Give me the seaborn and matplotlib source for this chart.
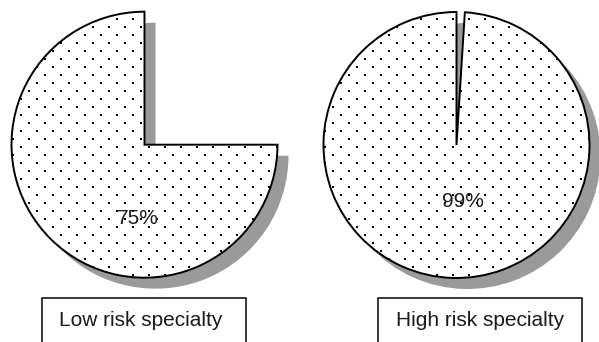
import numpy as np
import matplotlib
matplotlib.use("Agg")
import matplotlib.pyplot as plt
from matplotlib.patches import Rectangle
import seaborn as sns

# Share of respondents per specialty group
groups = ["Low risk specialty", "High risk specialty"]
percents = [75, 99]

sns.set_theme(style="white")
plt.rcParams["font.family"] = ["Liberation Sans", "DejaVu Sans"]

W, H = 599, 342
fig = plt.figure(figsize=(W / 100, H / 100), dpi=100)
ax = fig.add_axes([0, 0, 1, 1])

# layout in pixel units (y measured upward)
centers = [(144.5, H - 144.7), (456.5, H - 145.0)]
radius = 133
shadow_dx, shadow_dy = 11, -11
pct_pos = [(137.5, H - 218), (463.3, H - 201.3)]
box_span = [(42, 246), (378, 582)]
box_top = H - 298
name_pos = [(141, H - 320), (480, H - 320)]
shadow_color = "#9a9a9a"

# stippled texture: staggered dot lattice
xs, ys = [], []
for k, yi in enumerate(np.arange(3.3, H + 8, 8.0)):
    off = 4.7 + 8.0 * (k % 2)
    row = np.arange(off, W + 16, 16.0)
    xs.append(row)
    ys.append(np.full_like(row, H - yi))
dot_x = np.concatenate(xs)
dot_y = np.concatenate(ys)

for name, pct, c, tp, bx, npos in zip(groups, percents, centers, pct_pos,
                                      box_span, name_pos):
    sizes = [pct, 100 - pct]
    common = dict(startangle=90, counterclock=True, radius=radius, frame=True)

    # drop shadow
    sh, _ = ax.pie(sizes, center=(c[0] + shadow_dx, c[1] + shadow_dy),
                   colors=[shadow_color, "none"],
                   wedgeprops=dict(linewidth=0, zorder=1), **common)
    sh[1].set_visible(False)

    # white slice body
    body, _ = ax.pie(sizes, center=c, colors=["white", "none"],
                     wedgeprops=dict(linewidth=0, zorder=2), **common)
    body[1].set_visible(False)

    # dots clipped to the slice
    dots = ax.scatter(dot_x, dot_y, s=2.2, marker="s", color="black",
                      linewidths=0, zorder=3)
    dots.set_clip_path(body[0])

    # slice outline
    rim, _ = ax.pie(sizes, center=c, colors=["none", "none"],
                    wedgeprops=dict(edgecolor="black", linewidth=1.4,
                                    fill=False, zorder=4), **common)
    rim[1].set_visible(False)

    ax.text(tp[0], tp[1], f"{pct}%", ha="center", va="center",
            fontsize=15, color="#1a1a1a", zorder=5)

    # group name box
    ax.add_patch(Rectangle((bx[0], -20), bx[1] - bx[0], box_top + 20,
                           fill=False, edgecolor="black", linewidth=1.1,
                           zorder=5))
    ax.text(npos[0], npos[1], name, ha="center", va="center",
            fontsize=15, color="#1a1a1a", zorder=5)

ax.set_xlim(0, W)
ax.set_ylim(0, H)
ax.set_aspect("auto")
ax.axis("off")

fig.savefig("out.png", dpi=100)
